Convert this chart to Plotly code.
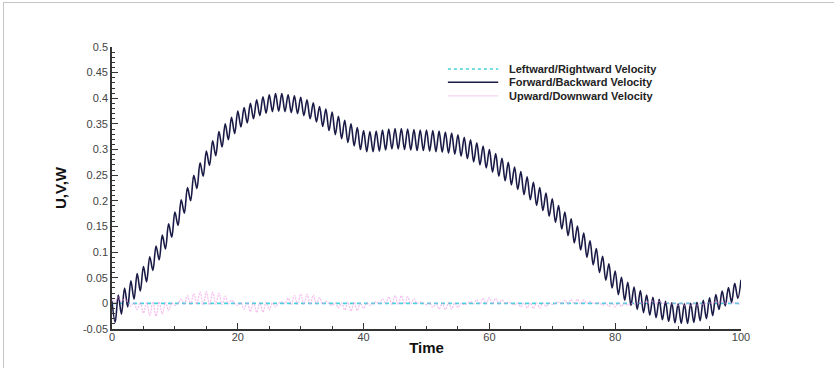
import plotly.graph_objects as go

# ---- data -------------------------------------------------------------
# Forward/Backward velocity: value at each crest (t = 0, 1, ..., 100)
fb_crest = [
    0.004, 0.016, 0.030, 0.044, 0.058, 0.072, 0.091, 0.112, 0.133, 0.155,
    0.178, 0.202, 0.226, 0.250, 0.274, 0.297, 0.317, 0.335, 0.350, 0.363,
    0.375, 0.382, 0.390, 0.397, 0.403, 0.407, 0.409, 0.409, 0.407, 0.405,
    0.402, 0.397, 0.391, 0.384, 0.379, 0.373, 0.365, 0.357, 0.350, 0.343,
    0.337, 0.335, 0.336, 0.338, 0.340, 0.341, 0.341, 0.340, 0.339, 0.338,
    0.338, 0.337, 0.336, 0.334, 0.332, 0.329, 0.324, 0.319, 0.313, 0.307,
    0.300, 0.292, 0.283, 0.275, 0.266, 0.257, 0.247, 0.236, 0.226, 0.215,
    0.204, 0.191, 0.178, 0.165, 0.151, 0.137, 0.122, 0.107, 0.092, 0.077,
    0.063, 0.051, 0.041, 0.032, 0.025, 0.016, 0.012, 0.008, 0.004, 0.001,
    -0.001, -0.001, 0.000, 0.002, 0.006, 0.011, 0.017, 0.024, 0.031, 0.039,
    0.046,
]
# Forward/Backward velocity: value at each trough (t = 0.5, 1.5, ..., 99.5)
fb_trough = [
    -0.037, -0.021, -0.007, 0.008, 0.024, 0.042, 0.064, 0.085, 0.106, 0.129,
    0.152, 0.176, 0.200, 0.224, 0.248, 0.269, 0.288, 0.305, 0.319, 0.331,
    0.344, 0.352, 0.360, 0.366, 0.371, 0.374, 0.375, 0.374, 0.372, 0.370,
    0.366, 0.360, 0.354, 0.345, 0.337, 0.329, 0.321, 0.314, 0.307, 0.300,
    0.296, 0.296, 0.297, 0.299, 0.301, 0.301, 0.300, 0.299, 0.298, 0.298,
    0.297, 0.296, 0.295, 0.293, 0.291, 0.287, 0.282, 0.276, 0.270, 0.264,
    0.256, 0.248, 0.239, 0.231, 0.222, 0.212, 0.202, 0.191, 0.181, 0.170,
    0.158, 0.145, 0.132, 0.118, 0.104, 0.090, 0.075, 0.060, 0.045, 0.030,
    0.017, 0.006, -0.004, -0.012, -0.018, -0.023, -0.028, -0.032, -0.035, -0.038,
    -0.039, -0.039, -0.037, -0.034, -0.030, -0.024, -0.012, -0.005, 0.002, 0.010,
]

# Upward/Downward velocity: outer swing of each cycle (t = 0, 1, ..., 100)
ud_swing = [
    0.008, 0.012, 0.010, -0.005, -0.012, -0.019, -0.024, -0.025, -0.021, -0.014,
    -0.004, 0.008, 0.015, 0.019, 0.022, 0.023, 0.022, 0.020, 0.014, 0.006,
    -0.004, -0.011, -0.016, -0.018, -0.017, -0.013, -0.007, 0.003, 0.010, 0.015,
    0.018, 0.018, 0.016, 0.011, 0.004, -0.004, -0.009, -0.013, -0.015, -0.014,
    -0.010, -0.004, 0.003, 0.009, 0.013, 0.015, 0.015, 0.013, 0.009, 0.003,
    -0.003, -0.008, -0.011, -0.012, -0.011, -0.008, -0.003, 0.003, 0.007, 0.010,
    0.011, 0.010, 0.007, 0.002, -0.003, -0.007, -0.009, -0.010, -0.009, -0.006,
    -0.002, 0.003, 0.006, 0.008, 0.008, 0.007, 0.004, 0.000, -0.004, -0.006,
    -0.007, -0.006, -0.004, -0.001, 0.002, 0.004, 0.005, 0.004, 0.002, -0.001,
    -0.004, -0.005, -0.005, -0.004, -0.002, 0.001, 0.003, 0.004, 0.004, 0.002,
    0.000,
]
# Upward/Downward velocity: return point of each cycle (t = 0.5, ..., 99.5)
ud_return = [
    0.002, 0.003, 0.002, 0.001, 0.002, 0.002, 0.003, 0.003, 0.002, 0.001,
    0.000, -0.001, -0.002, -0.002, -0.003, -0.003, -0.002, -0.002, -0.001, 0.000,
    0.001, 0.002, 0.002, 0.002, 0.002, 0.001, 0.000, -0.001, -0.002, -0.002,
    -0.002, -0.002, -0.001, -0.001, 0.000, 0.001, 0.001, 0.002, 0.002, 0.001,
    0.001, 0.000, -0.001, -0.001, -0.002, -0.002, -0.001, -0.001, 0.000, 0.000,
    0.001, 0.001, 0.001, 0.001, 0.001, 0.000, 0.000, -0.001, -0.001, -0.001,
    -0.001, -0.001, 0.000, 0.000, 0.001, 0.001, 0.001, 0.001, 0.001, 0.000,
    0.000, -0.001, -0.001, -0.001, -0.001, 0.000, 0.000, 0.001, 0.001, 0.001,
    0.001, 0.001, 0.000, 0.000, -0.001, -0.001, -0.001, -0.001, 0.000, 0.000,
    0.001, 0.001, 0.001, 0.001, 0.000, 0.000, -0.001, -0.001, -0.001, -0.001,
]

# Leftward/Rightward velocity stays on zero over the whole run
lr_time = [0, 100]
lr_value = [0.0, 0.0]

series_names = [
    "Leftward/Rightward Velocity",
    "Forward/Backward Velocity",
    "Upward/Downward Velocity",
]
y_tickvals = [-0.05, 0, 0.05, 0.1, 0.15, 0.2, 0.25, 0.3, 0.35, 0.4, 0.45, 0.5]
y_ticktext = ["-0.05", "0", "0.05", "0.1", "0.15", "0.2", "0.25", "0.3",
              "0.35", "0.4", "0.45", "0.5"]
x_tickvals = [0, 20, 40, 60, 80, 100]


def interleave(crest, trough):
    """Merge crest (integer times) and trough (half-integer times) samples."""
    t, v = [], []
    for k, c in enumerate(crest):
        t.append(float(k))
        v.append(c)
        if k < len(trough):
            t.append(k + 0.5)
            v.append(trough[k])
    return t, v


fb_t, fb_v = interleave(fb_crest, fb_trough)
ud_t, ud_v = interleave(ud_swing, ud_return)

COL_LR = "#44d4dc"
COL_FB = "#1a1a46"
COL_UD = "rgba(238,150,226,0.62)"
FONT_TXT = "Liberation Sans Narrow, Arial Narrow, Liberation Sans, Arial, sans-serif"
FONT_NUM = "Liberation Sans, Arial, sans-serif"

fig = go.Figure()
fig.add_trace(go.Scatter(
    x=lr_time, y=lr_value, mode="lines", name=series_names[0],
    line=dict(color=COL_LR, width=1.6, dash="4px,3px"), showlegend=False))
fig.add_trace(go.Scatter(
    x=fb_t, y=fb_v, mode="lines", name=series_names[1],
    line=dict(color=COL_FB, width=1.6, shape="spline", smoothing=1.0),
    showlegend=False))
fig.add_trace(go.Scatter(
    x=ud_t, y=ud_v, mode="lines", name=series_names[2],
    line=dict(color=COL_UD, width=1.2, dash="2px,1px", shape="spline",
              smoothing=1.0),
    showlegend=False))

# hand-placed legend block (paper coordinates)
legend_rows = [
    (0.922, dict(color=COL_LR, width=1.6, dash="dot")),
    (0.875, dict(color=COL_FB, width=1.7)),
    (0.827, dict(color="rgba(236,170,226,0.5)", width=1.2)),
]
shapes = []
annotations = []
for (yp, ln), label in zip(legend_rows, series_names):
    shapes.append(dict(type="line", xref="paper", yref="paper",
                       x0=0.534, x1=0.614, y0=yp, y1=yp, line=ln))
    annotations.append(dict(xref="paper", yref="paper", x=0.628, y=yp,
                            xanchor="left", yanchor="middle", showarrow=False,
                            text="<b>%s</b>" % label,
                            font=dict(family=FONT_TXT, size=11, color="#222222")))

# thin frame along the top and left edges of the page
frame = dict(color="#c4c4c4", width=1)
shapes.append(dict(type="line", xref="paper", yref="paper",
                   x0=-0.1733, x1=1.15, y0=1.1578, y1=1.1578, line=frame))
shapes.append(dict(type="line", xref="paper", yref="paper",
                   x0=-0.1725, x1=-0.1725, y0=1.1578, y1=-0.14, line=frame))

axis_common = dict(
    showgrid=False, zeroline=False, showline=True, linecolor="#333333",
    linewidth=1.6, ticks="inside", tickcolor="#333333", tickwidth=1.2,
    ticklen=6, tickfont=dict(family=FONT_NUM, size=11, color="#444444"),
)

fig.update_layout(
    width=834, height=368,
    margin=dict(l=112, r=93, t=47, b=39),
    paper_bgcolor="white", plot_bgcolor="white",
    xaxis=dict(
        range=[0, 100], tickmode="array", tickvals=x_tickvals,
        ticklabelstandoff=-3,
        minor=dict(dtick=5, ticks="inside", ticklen=3, tickcolor="#333333",
                   tickwidth=1),
        title=dict(text="<b>Time</b>", standoff=0,
                   font=dict(family=FONT_TXT, size=15, color="#111111")),
        **axis_common),
    yaxis=dict(
        range=[-0.05, 0.5], tickmode="array", tickvals=y_tickvals,
        ticktext=y_ticktext,
        minor=dict(tickmode="array",
                   tickvals=[round(-0.05 + 0.01 * i, 2) for i in range(56)],
                   ticks="inside", ticklen=3, tickcolor="#333333", tickwidth=1),
        title=dict(text="<b>U,V,W</b>", standoff=13,
                   font=dict(family=FONT_TXT, size=15, color="#111111")),
        **axis_common),
    shapes=shapes,
    annotations=annotations,
)

fig.write_html("out.html")
